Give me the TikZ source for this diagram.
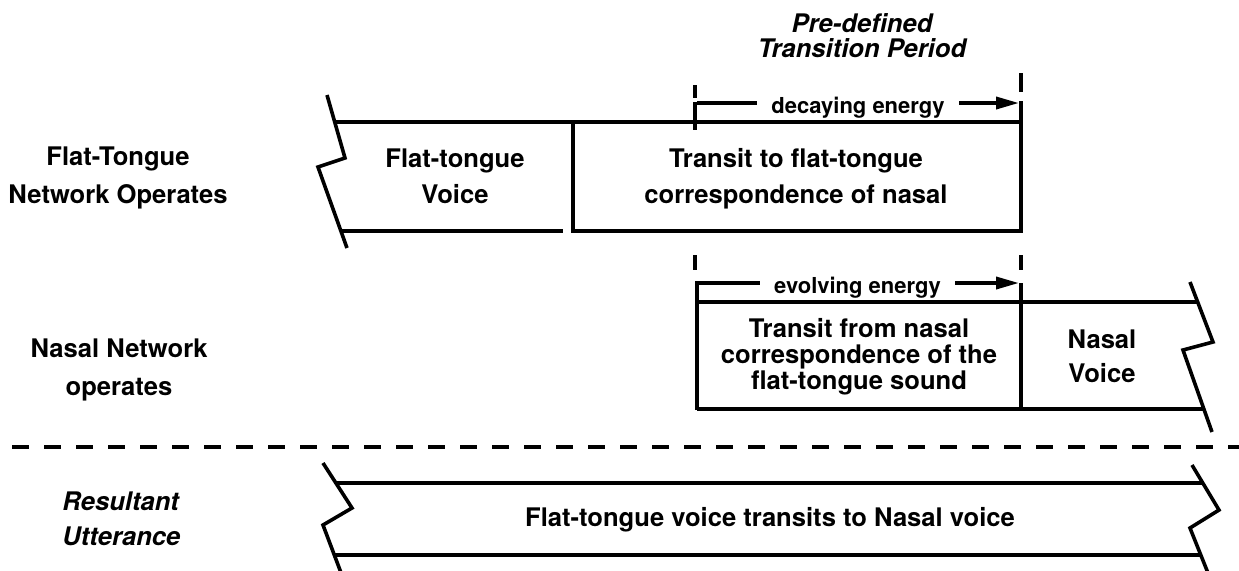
\documentclass[tikz,border=0pt]{standalone}
\usepackage{fontspec}
\setmainfont{TeX Gyre Heros}
\usetikzlibrary{arrows.meta}
\begin{document}
\begin{tikzpicture}[x=0.5pt,y=-0.5pt,
  edge/.style={line width=1.8pt},
  guide/.style={line width=1.8pt},
  sepline/.style={line width=2.1pt, dash pattern=on 8.5pt off 7.5pt},
  energy/.style={line width=1.8pt,-{Triangle[length=11.5pt,width=6pt]}},
  lbl/.style={font=\bfseries\fontsize{12.8}{#1}\selectfont, align=center, inner sep=0pt},
  lbl/.default=19pt,
  ilbl/.style={font=\bfseries\itshape\fontsize{12.8}{#1}\selectfont, inner sep=0pt},
  etxt/.style={font=\bfseries\fontsize{11}{13}\selectfont, fill=white, inner xsep=7pt, inner ysep=1pt}
]
\useasboundingbox (0,0) rectangle (1239,570);

% ---- flat-tongue network row ----
\draw[edge] (327,95) -- (345,158) -- (318,167) -- (347,248);
\draw[edge] (335,122) -- (1021,122);
\draw[edge] (341,231) -- (563,231);
\draw[edge] (573,122) -- (573,231) -- (1021,231) -- (1021,101);

% transition period guides
\draw[guide] (695,85) -- (695,98);
\draw[guide] (695,102) -- (695,130);
\draw[guide] (1021,73) -- (1021,92);
\draw[guide] (695,255) -- (695,270);
\draw[guide] (1021,255) -- (1021,270);

% decaying energy arrow
\coordinate (dstart) at (697,103);
\coordinate (dend) at (1019,103);
\draw[energy] (dstart) -- (dend);
\node[etxt] (dlab) at (858,107.5) {decaying energy};

% ---- nasal network row ----
\coordinate (nbot) at (697,410);
\coordinate (ncorner) at (697,283);
\coordinate (eend) at (1019,283);
\draw[energy] (nbot) -- (ncorner) -- (eend);
\draw[edge] (697,408.8) -- (1204,408.8);
\draw[edge] (697,302) -- (1198,302);
\draw[edge] (1021,283) -- (1021,410);
\draw[edge] (1190,282) -- (1213,342) -- (1183,350) -- (1212,432);
\node[etxt] (elab) at (857.5,287.5) {evolving energy};

% separator
\draw[sepline] (-20,447) -- (1260,447);

% ---- resultant utterance row ----
\draw[edge] (323,463) -- (352,508) -- (323,525) -- (343,578);
\draw[edge] (1192,465) -- (1219,510) -- (1190,528) -- (1210,578);
\draw[edge] (336,483) -- (1203,483);
\draw[edge] (335,555) -- (1200,555);

% ---- texts ----
\node[ilbl=12.5pt, align=center] (period) at (862,35.5) {Pre-defined\\Transition Period};
\node[lbl] (ftnet) at (118,178) {Flat-Tongue\\Network Operates};
\node[lbl] (nasnet) at (119,370) {Nasal Network\\operates};
\node[ilbl=17.5pt, align=left, anchor=west] (result) at (62,518.5) {Resultant\\Utterance};
\node[lbl=18pt] (ftvoice) at (455,176) {Flat-tongue\\Voice};
\node[lbl=18pt] (totrans) at (796,178.5) {Transit to flat-tongue\\correspondence of nasal};
\node[lbl=13pt] (fromtrans) at (859,357) {Transit from nasal\\correspondence of the\\flat-tongue sound};
\node[lbl=17pt] (nasvoice) at (1102,356) {Nasal\\Voice};
\node[lbl] (utter) at (770,520) {Flat-tongue voice transits to Nasal voice};
\end{tikzpicture}
\end{document}
